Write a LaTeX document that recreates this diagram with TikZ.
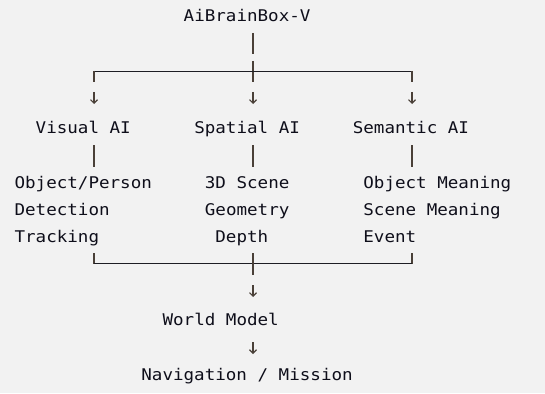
\documentclass[tikz,border=0pt]{standalone}
\usepackage{fontspec}
\setmonofont[FakeStretch=1.09]{DejaVu Sans Mono}
\usetikzlibrary{arrows.meta}
\definecolor{bgc}{HTML}{F2F2F2}
\definecolor{txt}{HTML}{0E0E1A}
\definecolor{lnc}{HTML}{4A4038}
\definecolor{hlc}{HTML}{1E1E24}
\tikzset{
  lbl/.style={anchor=base west, inner sep=0pt, outer sep=0pt, text=txt,
              font=\ttfamily\fontsize{16.1pt}{19pt}\selectfont},
  ln/.style={draw=lnc, line width=1.5pt},
  hl/.style={draw=hlc, line width=1pt},
  arr/.style={draw=lnc, line width=1.3pt, -{Straight Barb[length=3.5pt,width=7pt,line width=1.1pt]}}
}
\begin{document}
\begin{tikzpicture}[x=1pt,y=-1pt]
\fill[bgc] (0,0) rectangle (545,393);
\useasboundingbox (0,0) rectangle (545,393);
% texts
\node[lbl] (top) at (183.7,22) {AiBrainBox-V};
\node[lbl] (vis) at (35.7,133.3) {Visual AI};
\node[lbl] (spa) at (194.3,133.3) {Spatial AI};
\node[lbl] (sem) at (352.8,133.3) {Semantic AI};
\node[lbl] (v1) at (14.6,188.3) {Object/Person};
\node[lbl] (v2) at (14.6,215.6) {Detection};
\node[lbl] (v3) at (14.6,242.9) {Tracking};
\node[lbl] (s1) at (204.9,188.3) {3D Scene};
\node[lbl] (s2) at (204.9,215.6) {Geometry};
\node[lbl] (s3) at (215.4,242.9) {Depth};
\node[lbl] (m1) at (363.4,188.3) {Object Meaning};
\node[lbl] (m2) at (363.4,215.6) {Scene Meaning};
\node[lbl] (m3) at (363.4,242.9) {Event};
\node[lbl] (wm) at (162.6,325) {World Model};
\node[lbl] (nav) at (141.4,380) {Navigation / Mission};
% coordinates
\coordinate (cT) at (253,33);
\coordinate (cTb) at (253,82);
\coordinate (jL) at (94,71.5);
\coordinate (jM) at (253,71.5);
\coordinate (jR) at (412,71.5);
\coordinate (jLt) at (94,71);
\coordinate (jRt) at (412,71);
\coordinate (jLb) at (94,82);
\coordinate (jRb) at (412,82);
\coordinate (aL1) at (94,92);   \coordinate (aL2) at (94,104);
\coordinate (aM1) at (253,92);  \coordinate (aM2) at (253,104);
\coordinate (aR1) at (412,92);  \coordinate (aR2) at (412,104);
\coordinate (bL1) at (94,145);  \coordinate (bL2) at (94,167);
\coordinate (bM1) at (253,145); \coordinate (bM2) at (253,167);
\coordinate (bR1) at (412,145); \coordinate (bR2) at (412,167);
\coordinate (kL) at (94,253);   \coordinate (kR) at (412,253);
\coordinate (kLb) at (94,264);  \coordinate (kRb) at (412,264);
\coordinate (hL) at (94,263.5); \coordinate (hR) at (412,263.5);
\coordinate (kM1) at (253,253); \coordinate (kM2) at (253,274.5);
\coordinate (w1) at (253,285);  \coordinate (w2) at (253,297);
\coordinate (n1) at (253,342);  \coordinate (n2) at (253,354);
% connectors
\draw[ln, dash pattern=on 21pt off 7pt on 30pt] (cT) -- (cTb);
\draw[hl] (jL) -- (jR);
\draw[ln] (jLt) -- (jLb);
\draw[ln] (jRt) -- (jRb);
\draw[arr] (aL1) -- (aL2);
\draw[arr] (aM1) -- (aM2);
\draw[arr] (aR1) -- (aR2);
\draw[ln] (bL1) -- (bL2);
\draw[ln] (bM1) -- (bM2);
\draw[ln] (bR1) -- (bR2);
\draw[ln] (kL) -- (kLb);
\draw[ln] (kR) -- (kRb);
\draw[hl] (hL) -- (hR);
\draw[ln] (kM1) -- (kM2);
\draw[arr] (w1) -- (w2);
\draw[arr] (n1) -- (n2);
\end{tikzpicture}
\end{document}
